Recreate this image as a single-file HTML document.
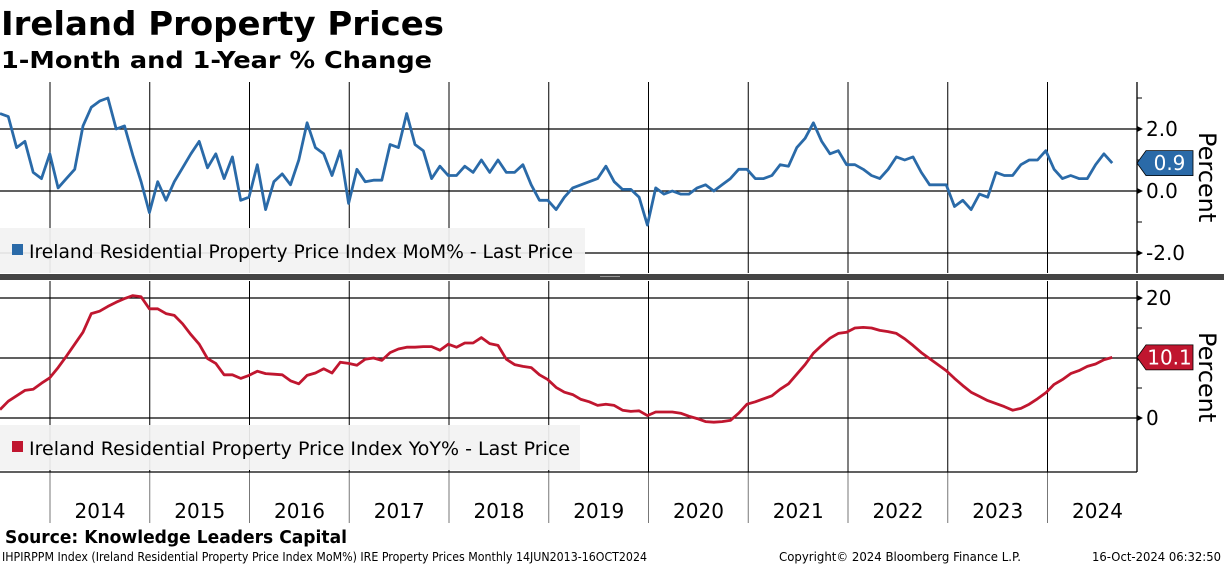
<!DOCTYPE html>
<html><head><meta charset="utf-8">
<style>
html,body{margin:0;padding:0;background:#fff;width:1224px;height:566px;overflow:hidden}
svg{display:block}
text{font-family:"DejaVu Sans","Liberation Sans",sans-serif}
</style></head>
<body>
<svg id="chart" width="1224" height="566" viewBox="0 0 1224 566">
<text x="1" y="35" font-size="33" font-weight="bold" textLength="443" lengthAdjust="spacingAndGlyphs">Ireland Property Prices</text>
<text x="1" y="68" font-size="23" font-weight="bold" textLength="431" lengthAdjust="spacingAndGlyphs">1-Month and 1-Year % Change</text>
<g id="grid"></g>
<rect x="0" y="228" width="585" height="45" fill="#f2f2f2" opacity="0.92"/>
<rect x="12" y="244" width="11" height="11" fill="#2a6aa8"/>
<text x="29" y="258" font-size="19" textLength="544" lengthAdjust="spacingAndGlyphs">Ireland Residential Property Price Index MoM% - Last Price</text>
<rect x="0" y="425" width="580" height="45" fill="#f2f2f2" opacity="0.92"/>
<rect x="12" y="441" width="11" height="11" fill="#c0162f"/>
<text x="29" y="455" font-size="19" textLength="541" lengthAdjust="spacingAndGlyphs">Ireland Residential Property Price Index YoY% - Last Price</text>
<rect x="0" y="274" width="1224" height="6" fill="#444"/>
<rect x="600" y="276" width="20" height="1" fill="#999"/>
<g id="series"></g>
<g id="axes"></g>
<text transform="translate(1199,132) rotate(90)" font-size="24">Percent</text>
<text transform="translate(1199,332) rotate(90)" font-size="24">Percent</text>
<text x="5" y="543" font-size="18" font-weight="bold" textLength="342" lengthAdjust="spacingAndGlyphs">Source: Knowledge Leaders Capital</text>
<text x="2" y="561" font-size="12" textLength="645" lengthAdjust="spacingAndGlyphs">IHPIRPPM Index (Ireland Residential Property Price Index MoM%) IRE Property Prices  Monthly 14JUN2013-16OCT2024</text>
<text x="779" y="561" font-size="12" textLength="242" lengthAdjust="spacingAndGlyphs">Copyright© 2024 Bloomberg Finance L.P.</text>
<text x="1092" y="561" font-size="12" textLength="129" lengthAdjust="spacingAndGlyphs">16-Oct-2024 06:32:50</text>
</svg>
<script>
const years = ["2014","2015","2016","2017","2018","2019","2020","2021","2022","2023","2024"];
const momTicks = [2.0, 0.0, -2.0];
const momTickLabels = ["2.0","0.0","-2.0"];
const yoyTicks = [20, 10, 0];
const yoyTickLabels = ["20","10","0"];
const momValues = [2.5,2.4,1.4,1.6,0.6,0.4,
1.2,0.1,0.4,0.7,2.1,2.7,2.9,3.0,2.0,2.1,1.15,0.3,
-0.7,0.3,-0.3,0.3,0.75,1.2,1.6,0.75,1.2,0.4,1.1,-0.3,
-0.2,0.85,-0.6,0.3,0.55,0.2,1.0,2.2,1.4,1.2,0.5,1.3,
-0.4,0.7,0.3,0.35,0.35,1.5,1.4,2.5,1.5,1.3,0.4,0.8,
0.5,0.5,0.8,0.6,1.0,0.6,1.0,0.6,0.6,0.85,0.2,-0.3,
-0.3,-0.6,-0.2,0.1,0.2,0.3,0.4,0.8,0.3,0.05,0.05,-0.2,
-1.1,0.1,-0.1,0,-0.1,-0.1,0.1,0.2,0,0.2,0.4,0.7,
0.7,0.4,0.4,0.5,0.85,0.8,1.4,1.7,2.2,1.6,1.2,1.3,
0.85,0.85,0.7,0.5,0.4,0.7,1.1,1.0,1.1,0.6,0.2,0.2,
0.2,-0.5,-0.3,-0.6,-0.1,-0.2,0.6,0.5,0.5,0.85,1.0,1.0,
1.3,0.7,0.4,0.5,0.4,0.4,0.85,1.2,0.9];
const yoyValues = [1.4,2.8,3.7,4.6,4.8,5.8,
6.7,8.4,10.3,12.3,14.3,17.4,17.8,18.6,19.3,19.9,20.4,20.2,
18.2,18.2,17.4,17.1,15.7,13.9,12.3,9.9,9.1,7.2,7.2,6.6,
7.1,7.8,7.4,7.3,7.2,6.2,5.7,7.1,7.5,8.2,7.5,9.3,
9.1,8.8,9.8,10.0,9.6,10.9,11.5,11.8,11.8,11.9,11.9,11.3,
12.3,11.8,12.5,12.5,13.4,12.4,12.1,9.8,8.9,8.6,8.4,7.2,
6.4,5.1,4.3,3.9,3.1,2.7,2.1,2.3,2.1,1.3,1.1,1.2,
0.4,1.0,1.0,1.0,0.8,0.3,-0.1,-0.6,-0.7,-0.6,-0.4,0.8,
2.3,2.7,3.2,3.7,4.8,5.7,7.3,8.9,10.8,12.1,13.3,14.1,
14.3,15.0,15.1,15.0,14.6,14.4,14.1,13.2,12.1,10.9,9.9,8.9,
7.9,6.6,5.4,4.3,3.6,2.9,2.4,1.9,1.3,1.6,2.3,3.2,
4.2,5.6,6.4,7.4,7.9,8.6,9.0,9.7,10.1];
const momLast = "0.9", yoyLast = "10.1";

const NS="http://www.w3.org/2000/svg";
const PX_MONTH=8.3, X0=0; // index 0 = Jul 2013
const xIdx=i=>X0+i*PX_MONTH;
const xYear=k=>50+k*99.75;
const yMom=v=>191-v*31;
const yYoy=v=>418-v*6;
const PR=1137;
function mk(tag,attrs,parent){const e=document.createElementNS(NS,tag);for(const k in attrs)e.setAttribute(k,attrs[k]);parent.appendChild(e);return e;}
const grid=document.getElementById('grid'),axes=document.getElementById('axes'),series=document.getElementById('series');

// vertical year lines
years.forEach((y,k)=>{
  const x=xYear(k);
  let l=mk('line',{x1:x,x2:x,y1:82,y2:273,stroke:'#000','stroke-width':1},grid);
  
  
  l=mk('line',{x1:x,x2:x,y1:281,y2:472,stroke:'#000','stroke-width':1},grid);
  
  
  l=mk('line',{x1:x,x2:x,y1:472,y2:523,stroke:'#777','stroke-width':1},axes);
  
  
  const t=mk('text',{x:x+50,y:518,'font-size':20,'text-anchor':'middle'},axes);
  t.textContent=y;
  
  
});
// horizontal gridlines + ticks
function hTicks(vals,labels,yf,minor){
  vals.forEach((v,i)=>{
    const y=yf(v);
    let l=mk('line',{x1:0,x2:PR,y1:y,y2:y,stroke:'#000','stroke-width':1.3},grid);
    
    
    const p=mk('path',{d:`M${PR},${y-3}L${PR+6},${y}L${PR},${y+3}Z`,fill:'#000'},axes);
    
    
    const t=mk('text',{x:PR+9,y:y+7,'font-size':20},axes);
    t.textContent=labels[i];
    
    
  });
  minor.forEach(v=>{
    const y=yf(v);
    const l=mk('line',{x1:PR,x2:PR+5,y1:y,y2:y,stroke:'#000'},axes);
    
    
  });
}
hTicks(momTicks,momTickLabels,yMom,[3,1,-1]);
hTicks(yoyTicks,yoyTickLabels,yYoy,[15,5]);
let a=mk('line',{x1:PR,x2:PR,y1:82,y2:273,stroke:'#000','stroke-width':1.3},axes);


a=mk('line',{x1:PR,x2:PR,y1:281,y2:472,stroke:'#000','stroke-width':1.3},axes);


a=mk('line',{x1:0,x2:PR,y1:472,y2:472,stroke:'#000','stroke-width':1.3},axes);



function line(vals,yf,color,name){
  const d=vals.map((v,i)=>(i?'L':'M')+xIdx(i).toFixed(1)+','+yf(v).toFixed(1)).join('');
  const p=mk('path',{d:d,fill:'none',stroke:color,'stroke-width':2.8,'stroke-linejoin':'round'},series);
  
  
}
line(momValues,yMom,'#2a6aa8','mom-line');
line(yoyValues,yYoy,'#c0162f','yoy-line');

function tag(val,text,yf,color,w,name){
  const y=yf(val);
  const p=mk('path',{d:`M${PR},${y}L${PR+9},${y-12.5}L${PR+9+w},${y-12.5}L${PR+9+w},${y+12.5}L${PR+9},${y+12.5}Z`,fill:color,stroke:'#000','stroke-width':0.8},axes);
  
  
  const t=mk('text',{x:PR+9+w/2,y:y+7,'font-size':20,fill:'#fff','text-anchor':'middle'},axes);
  t.textContent=text;
  
  
}
tag(parseFloat(momLast),momLast,yMom,'#2a6aa8',47,'mom-last-value-tag');
tag(parseFloat(yoyLast),yoyLast,yYoy,'#c0162f',47,'yoy-last-value-tag');
</script>
</body></html>
